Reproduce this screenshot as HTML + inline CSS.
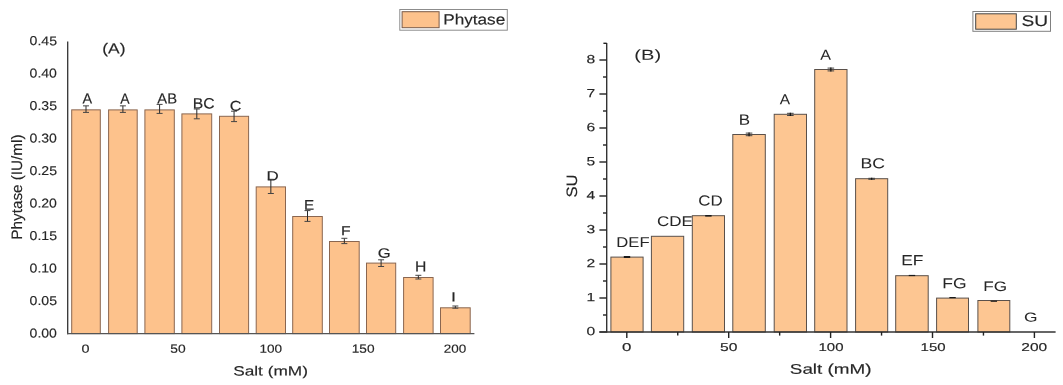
<!DOCTYPE html>
<html><head><meta charset="utf-8"><style>
html,body{margin:0;padding:0;background:#fff;}
body{width:1063px;height:385px;overflow:hidden;}
svg{display:block;font-family:"Liberation Sans",sans-serif;filter:blur(0.4px);}
</style></head><body>
<svg width="1063" height="385" viewBox="0 0 1063 385">
<rect width="1063" height="385" fill="#fff"/>
<rect x="71.70" y="109.85" width="28.60" height="223.75" fill="#fdc28c" stroke="#8a6650" stroke-width="1"/>
<rect x="108.60" y="109.90" width="28.60" height="223.70" fill="#fdc28c" stroke="#8a6650" stroke-width="1"/>
<rect x="144.90" y="109.90" width="29.40" height="223.70" fill="#fdc28c" stroke="#8a6650" stroke-width="1"/>
<rect x="181.90" y="113.90" width="29.80" height="219.70" fill="#fdc28c" stroke="#8a6650" stroke-width="1"/>
<rect x="219.50" y="116.30" width="29.10" height="217.30" fill="#fdc28c" stroke="#8a6650" stroke-width="1"/>
<rect x="256.20" y="186.90" width="29.30" height="146.70" fill="#fdc28c" stroke="#8a6650" stroke-width="1"/>
<rect x="292.70" y="216.50" width="29.60" height="117.10" fill="#fdc28c" stroke="#8a6650" stroke-width="1"/>
<rect x="329.50" y="241.50" width="29.70" height="92.10" fill="#fdc28c" stroke="#8a6650" stroke-width="1"/>
<rect x="366.50" y="263.10" width="29.20" height="70.50" fill="#fdc28c" stroke="#8a6650" stroke-width="1"/>
<rect x="403.60" y="277.50" width="29.50" height="56.10" fill="#fdc28c" stroke="#8a6650" stroke-width="1"/>
<rect x="440.50" y="307.80" width="29.70" height="25.80" fill="#fdc28c" stroke="#8a6650" stroke-width="1"/>
<line x1="86.0" y1="105.85" x2="86.0" y2="112.4" stroke="#2a2a2a" stroke-width="1"/>
<line x1="83.0" y1="105.85" x2="89.0" y2="105.85" stroke="#444" stroke-width="1"/>
<line x1="83.0" y1="112.4" x2="89.0" y2="112.4" stroke="#444" stroke-width="1"/>
<line x1="122.89999999999999" y1="105.85" x2="122.89999999999999" y2="112.4" stroke="#2a2a2a" stroke-width="1"/>
<line x1="119.89999999999999" y1="105.85" x2="125.89999999999999" y2="105.85" stroke="#444" stroke-width="1"/>
<line x1="119.89999999999999" y1="112.4" x2="125.89999999999999" y2="112.4" stroke="#444" stroke-width="1"/>
<line x1="159.60000000000002" y1="104.4" x2="159.60000000000002" y2="113.4" stroke="#2a2a2a" stroke-width="1"/>
<line x1="156.60000000000002" y1="104.4" x2="162.60000000000002" y2="104.4" stroke="#444" stroke-width="1"/>
<line x1="156.60000000000002" y1="113.4" x2="162.60000000000002" y2="113.4" stroke="#444" stroke-width="1"/>
<line x1="196.8" y1="109" x2="196.8" y2="118.8" stroke="#2a2a2a" stroke-width="1"/>
<line x1="193.8" y1="109" x2="199.8" y2="109" stroke="#444" stroke-width="1"/>
<line x1="193.8" y1="118.8" x2="199.8" y2="118.8" stroke="#444" stroke-width="1"/>
<line x1="234.05" y1="111.2" x2="234.05" y2="121.6" stroke="#2a2a2a" stroke-width="1"/>
<line x1="231.05" y1="111.2" x2="237.05" y2="111.2" stroke="#444" stroke-width="1"/>
<line x1="231.05" y1="121.6" x2="237.05" y2="121.6" stroke="#444" stroke-width="1"/>
<line x1="270.85" y1="179.3" x2="270.85" y2="193.5" stroke="#2a2a2a" stroke-width="1"/>
<line x1="267.85" y1="179.3" x2="273.85" y2="179.3" stroke="#444" stroke-width="1"/>
<line x1="267.85" y1="193.5" x2="273.85" y2="193.5" stroke="#444" stroke-width="1"/>
<line x1="307.5" y1="210.6" x2="307.5" y2="221.4" stroke="#2a2a2a" stroke-width="1"/>
<line x1="304.5" y1="210.6" x2="310.5" y2="210.6" stroke="#444" stroke-width="1"/>
<line x1="304.5" y1="221.4" x2="310.5" y2="221.4" stroke="#444" stroke-width="1"/>
<line x1="344.35" y1="238.3" x2="344.35" y2="243.6" stroke="#2a2a2a" stroke-width="1"/>
<line x1="341.35" y1="238.3" x2="347.35" y2="238.3" stroke="#444" stroke-width="1"/>
<line x1="341.35" y1="243.6" x2="347.35" y2="243.6" stroke="#444" stroke-width="1"/>
<line x1="381.1" y1="259.8" x2="381.1" y2="266.5" stroke="#2a2a2a" stroke-width="1"/>
<line x1="378.1" y1="259.8" x2="384.1" y2="259.8" stroke="#444" stroke-width="1"/>
<line x1="378.1" y1="266.5" x2="384.1" y2="266.5" stroke="#444" stroke-width="1"/>
<line x1="418.35" y1="275.3" x2="418.35" y2="279" stroke="#2a2a2a" stroke-width="1"/>
<line x1="415.35" y1="275.3" x2="421.35" y2="275.3" stroke="#444" stroke-width="1"/>
<line x1="415.35" y1="279" x2="421.35" y2="279" stroke="#444" stroke-width="1"/>
<line x1="455.35" y1="306" x2="455.35" y2="308.2" stroke="#2a2a2a" stroke-width="1"/>
<line x1="452.35" y1="306" x2="458.35" y2="306" stroke="#444" stroke-width="1"/>
<line x1="452.35" y1="308.2" x2="458.35" y2="308.2" stroke="#444" stroke-width="1"/>
<line x1="67.7" y1="41.6" x2="67.7" y2="334.2" stroke="#333" stroke-width="1.3"/>
<line x1="67" y1="333.6" x2="474.4" y2="333.6" stroke="#555" stroke-width="1.2"/>
<text transform="translate(29.59,45.12) rotate(0.05) scale(1.1003,1)" font-size="12.82" fill="#262626" stroke="#262626" stroke-width="0.15">0.45</text>
<text transform="translate(29.59,77.60) rotate(0.05) scale(1.0973,1)" font-size="12.82" fill="#262626" stroke="#262626" stroke-width="0.15">0.40</text>
<text transform="translate(29.59,110.08) rotate(0.05) scale(1.1003,1)" font-size="12.82" fill="#262626" stroke="#262626" stroke-width="0.15">0.35</text>
<text transform="translate(29.59,142.56) rotate(0.05) scale(1.0973,1)" font-size="12.82" fill="#262626" stroke="#262626" stroke-width="0.15">0.30</text>
<text transform="translate(29.59,175.04) rotate(0.05) scale(1.1003,1)" font-size="12.82" fill="#262626" stroke="#262626" stroke-width="0.15">0.25</text>
<text transform="translate(29.59,207.52) rotate(0.05) scale(1.0973,1)" font-size="12.82" fill="#262626" stroke="#262626" stroke-width="0.15">0.20</text>
<text transform="translate(29.59,240.00) rotate(0.05) scale(1.1003,1)" font-size="12.82" fill="#262626" stroke="#262626" stroke-width="0.15">0.15</text>
<text transform="translate(29.59,272.48) rotate(0.05) scale(1.0973,1)" font-size="12.82" fill="#262626" stroke="#262626" stroke-width="0.15">0.10</text>
<text transform="translate(29.59,304.96) rotate(0.05) scale(1.1003,1)" font-size="12.82" fill="#262626" stroke="#262626" stroke-width="0.15">0.05</text>
<text transform="translate(29.59,337.44) rotate(0.05) scale(1.0973,1)" font-size="12.82" fill="#262626" stroke="#262626" stroke-width="0.15">0.00</text>
<text transform="translate(81.58,352.73) rotate(0.05) scale(1.2150,1)" font-size="11.83" fill="#262626" stroke="#262626" stroke-width="0.15">0</text>
<text transform="translate(170.30,352.73) rotate(0.05) scale(1.1678,1)" font-size="11.83" fill="#262626" stroke="#262626" stroke-width="0.15">50</text>
<text transform="translate(259.43,352.73) rotate(0.05) scale(1.1469,1)" font-size="11.83" fill="#262626" stroke="#262626" stroke-width="0.15">100</text>
<text transform="translate(351.72,352.73) rotate(0.05) scale(1.1578,1)" font-size="11.83" fill="#262626" stroke="#262626" stroke-width="0.15">150</text>
<text transform="translate(443.68,352.73) rotate(0.05) scale(1.1395,1)" font-size="11.83" fill="#262626" stroke="#262626" stroke-width="0.15">200</text>
<text transform="translate(82.55,103.45) rotate(0.05) scale(0.9862,1)" font-size="14.64" fill="#262626" stroke="#262626" stroke-width="0.15">A</text>
<text transform="translate(120.15,103.85) rotate(0.05) scale(0.9369,1)" font-size="14.93" fill="#262626" stroke="#262626" stroke-width="0.15">A</text>
<text transform="translate(157.35,103.45) rotate(0.05) scale(1.0087,1)" font-size="14.64" fill="#262626" stroke="#262626" stroke-width="0.15">AB</text>
<text transform="translate(192.79,108.50) rotate(0.05) scale(1.0548,1)" font-size="14.93" fill="#262626" stroke="#262626" stroke-width="0.15">BC</text>
<text transform="translate(229.74,110.71) rotate(0.05) scale(1.1403,1)" font-size="14.23" fill="#262626" stroke="#262626" stroke-width="0.15">C</text>
<text transform="translate(266.39,180.45) rotate(0.05) scale(1.2594,1)" font-size="13.48" fill="#262626" stroke="#262626" stroke-width="0.15">D</text>
<text transform="translate(303.93,209.85) rotate(0.05) scale(1.0833,1)" font-size="14.06" fill="#262626" stroke="#262626" stroke-width="0.15">E</text>
<text transform="translate(340.89,235.25) rotate(0.05) scale(1.1915,1)" font-size="13.19" fill="#262626" stroke="#262626" stroke-width="0.15">F</text>
<text transform="translate(377.72,257.71) rotate(0.05) scale(1.2181,1)" font-size="13.66" fill="#262626" stroke="#262626" stroke-width="0.15">G</text>
<text transform="translate(414.89,271.45) rotate(0.05) scale(1.0736,1)" font-size="14.64" fill="#262626" stroke="#262626" stroke-width="0.15">H</text>
<text transform="translate(450.94,301.45) rotate(0.05) scale(1.3277,1)" font-size="13.48" fill="#262626" stroke="#262626" stroke-width="0.15">I</text>
<text transform="translate(102.30,53.57) rotate(0.05) scale(1.1901,1)" font-size="14.65" fill="#262626" stroke="#262626" stroke-width="0.15">(A)</text>
<text transform="translate(21.98,239.67) rotate(-89.95) scale(1.0136,1)" font-size="15.08" fill="#262626" stroke="#262626" stroke-width="0.15">Phytase (IU/ml)</text>
<text transform="translate(233.17,375.52) rotate(0.05) scale(1.2804,1)" font-size="13.48" fill="#262626" stroke="#262626" stroke-width="0.15">Salt (mM)</text>
<rect x="399.8" y="9.5" width="107.5" height="20.7" fill="#fff" stroke="#8c8c8c" stroke-width="1"/>
<rect x="402.10" y="11.70" width="37.00" height="16.00" fill="#fdc28c" stroke="#7a5a48" stroke-width="1"/>
<text transform="translate(443.17,24.55) rotate(0.05) scale(1.1645,1)" font-size="14.76" fill="#262626" stroke="#262626" stroke-width="0.15">Phytase</text>
<text transform="translate(616.32,246.95) rotate(0.05) scale(1.1604,1)" font-size="14.35" fill="#262626" stroke="#262626" stroke-width="0.02">DEF</text>
<text transform="translate(657.00,226.01) rotate(0.05) scale(1.2056,1)" font-size="14.08" fill="#262626" stroke="#262626" stroke-width="0.02">CDE</text>
<text transform="translate(698.31,205.40) rotate(0.05) scale(1.1522,1)" font-size="14.65" fill="#262626" stroke="#262626" stroke-width="0.02">CD</text>
<text transform="translate(738.69,124.65) rotate(0.05) scale(1.1395,1)" font-size="14.93" fill="#262626" stroke="#262626" stroke-width="0.02">B</text>
<text transform="translate(779.85,104.35) rotate(0.05) scale(1.0687,1)" font-size="14.49" fill="#262626" stroke="#262626" stroke-width="0.02">A</text>
<text transform="translate(820.25,59.65) rotate(0.05) scale(1.1214,1)" font-size="14.35" fill="#262626" stroke="#262626" stroke-width="0.02">A</text>
<text transform="translate(860.54,168.30) rotate(0.05) scale(1.2158,1)" font-size="14.51" fill="#262626" stroke="#262626" stroke-width="0.02">BC</text>
<text transform="translate(901.16,265.35) rotate(0.05) scale(1.1658,1)" font-size="14.93" fill="#262626" stroke="#262626" stroke-width="0.02">EF</text>
<text transform="translate(942.35,288.30) rotate(0.05) scale(1.2056,1)" font-size="14.51" fill="#262626" stroke="#262626" stroke-width="0.02">FG</text>
<text transform="translate(983.28,290.91) rotate(0.05) scale(1.2565,1)" font-size="13.66" fill="#262626" stroke="#262626" stroke-width="0.02">FG</text>
<text transform="translate(1024.08,321.52) rotate(0.05) scale(1.3579,1)" font-size="12.82" fill="#262626" stroke="#262626" stroke-width="0.02">G</text>
<rect x="610.90" y="257.10" width="32.20" height="74.90" fill="#fdc692" stroke="#5a504a" stroke-width="1"/>
<rect x="651.40" y="236.30" width="32.30" height="95.70" fill="#fdc692" stroke="#5a504a" stroke-width="1"/>
<rect x="692.30" y="215.70" width="32.20" height="116.30" fill="#fdc692" stroke="#5a504a" stroke-width="1"/>
<rect x="732.80" y="134.50" width="32.50" height="197.50" fill="#fdc692" stroke="#5a504a" stroke-width="1"/>
<rect x="774.20" y="114.30" width="32.30" height="217.70" fill="#fdc692" stroke="#5a504a" stroke-width="1"/>
<rect x="814.70" y="69.50" width="32.30" height="262.50" fill="#fdc692" stroke="#5a504a" stroke-width="1"/>
<rect x="855.60" y="178.70" width="32.10" height="153.30" fill="#fdc692" stroke="#5a504a" stroke-width="1"/>
<rect x="895.70" y="275.70" width="32.50" height="56.30" fill="#fdc692" stroke="#5a504a" stroke-width="1"/>
<rect x="936.60" y="298.10" width="31.90" height="33.90" fill="#fdc692" stroke="#5a504a" stroke-width="1"/>
<rect x="977.90" y="300.50" width="31.90" height="31.50" fill="#fdc692" stroke="#5a504a" stroke-width="1"/>
<rect x="623.80" y="256.00" width="6.4" height="2.00" fill="#1a1a1a"/>
<rect x="705.20" y="215.00" width="6.4" height="1.60" fill="#1a1a1a"/>
<line x1="745.75" y1="133.1" x2="752.3499999999999" y2="133.1" stroke="#444" stroke-width="1"/>
<line x1="745.75" y1="135.7" x2="752.3499999999999" y2="135.7" stroke="#444" stroke-width="1"/>
<line x1="749.05" y1="132.6" x2="749.05" y2="136.2" stroke="#111" stroke-width="1.2"/>
<line x1="787.0500000000001" y1="113.3" x2="793.65" y2="113.3" stroke="#444" stroke-width="1"/>
<line x1="787.0500000000001" y1="115.5" x2="793.65" y2="115.5" stroke="#444" stroke-width="1"/>
<line x1="790.35" y1="112.8" x2="790.35" y2="116" stroke="#111" stroke-width="1.2"/>
<line x1="827.5500000000001" y1="68.1" x2="834.15" y2="68.1" stroke="#444" stroke-width="1"/>
<line x1="827.5500000000001" y1="70.9" x2="834.15" y2="70.9" stroke="#444" stroke-width="1"/>
<line x1="830.85" y1="67.6" x2="830.85" y2="71.4" stroke="#111" stroke-width="1.2"/>
<line x1="868.3500000000001" y1="178.3" x2="874.95" y2="178.3" stroke="#444" stroke-width="1"/>
<line x1="868.3500000000001" y1="179.3" x2="874.95" y2="179.3" stroke="#444" stroke-width="1"/>
<line x1="871.6500000000001" y1="177.8" x2="871.6500000000001" y2="179.8" stroke="#111" stroke-width="1.2"/>
<rect x="908.75" y="274.90" width="6.4" height="1.20" fill="#1a1a1a"/>
<rect x="949.35" y="297.00" width="6.4" height="1.20" fill="#1a1a1a"/>
<rect x="990.65" y="300.60" width="6.4" height="1.20" fill="#1a1a1a"/>
<line x1="606.7" y1="43" x2="606.7" y2="332.6" stroke="#333" stroke-width="1.4"/>
<line x1="603.4" y1="43.3" x2="606.7" y2="43.3" stroke="#222" stroke-width="1.4"/>
<line x1="599.4" y1="332" x2="606.7" y2="332" stroke="#222" stroke-width="1.4"/>
<line x1="603" y1="315" x2="606.7" y2="315" stroke="#222" stroke-width="1.4"/>
<text transform="translate(595.17,335.33) rotate(0.05) scale(1.3051,1)" text-anchor="end" font-size="11.97" fill="#262626" stroke="#262626" stroke-width="0.15">0</text>
<line x1="599.4" y1="298" x2="606.7" y2="298" stroke="#222" stroke-width="1.4"/>
<line x1="603" y1="281" x2="606.7" y2="281" stroke="#222" stroke-width="1.4"/>
<text transform="translate(595.17,301.33) rotate(0.05) scale(1.3051,1)" text-anchor="end" font-size="11.97" fill="#262626" stroke="#262626" stroke-width="0.15">1</text>
<line x1="599.4" y1="264" x2="606.7" y2="264" stroke="#222" stroke-width="1.4"/>
<line x1="603" y1="247" x2="606.7" y2="247" stroke="#222" stroke-width="1.4"/>
<text transform="translate(595.17,267.33) rotate(0.05) scale(1.3051,1)" text-anchor="end" font-size="11.97" fill="#262626" stroke="#262626" stroke-width="0.15">2</text>
<line x1="599.4" y1="230" x2="606.7" y2="230" stroke="#222" stroke-width="1.4"/>
<line x1="603" y1="213" x2="606.7" y2="213" stroke="#222" stroke-width="1.4"/>
<text transform="translate(595.17,233.33) rotate(0.05) scale(1.3051,1)" text-anchor="end" font-size="11.97" fill="#262626" stroke="#262626" stroke-width="0.15">3</text>
<line x1="599.4" y1="196" x2="606.7" y2="196" stroke="#222" stroke-width="1.4"/>
<line x1="603" y1="179" x2="606.7" y2="179" stroke="#222" stroke-width="1.4"/>
<text transform="translate(595.17,199.33) rotate(0.05) scale(1.3051,1)" text-anchor="end" font-size="11.97" fill="#262626" stroke="#262626" stroke-width="0.15">4</text>
<line x1="599.4" y1="162" x2="606.7" y2="162" stroke="#222" stroke-width="1.4"/>
<line x1="603" y1="145" x2="606.7" y2="145" stroke="#222" stroke-width="1.4"/>
<text transform="translate(595.17,165.33) rotate(0.05) scale(1.3051,1)" text-anchor="end" font-size="11.97" fill="#262626" stroke="#262626" stroke-width="0.15">5</text>
<line x1="599.4" y1="128" x2="606.7" y2="128" stroke="#222" stroke-width="1.4"/>
<line x1="603" y1="111" x2="606.7" y2="111" stroke="#222" stroke-width="1.4"/>
<text transform="translate(595.17,131.33) rotate(0.05) scale(1.3051,1)" text-anchor="end" font-size="11.97" fill="#262626" stroke="#262626" stroke-width="0.15">6</text>
<line x1="599.4" y1="94" x2="606.7" y2="94" stroke="#222" stroke-width="1.4"/>
<line x1="603" y1="77" x2="606.7" y2="77" stroke="#222" stroke-width="1.4"/>
<text transform="translate(595.17,97.33) rotate(0.05) scale(1.3051,1)" text-anchor="end" font-size="11.97" fill="#262626" stroke="#262626" stroke-width="0.15">7</text>
<line x1="599.4" y1="60" x2="606.7" y2="60" stroke="#222" stroke-width="1.4"/>
<text transform="translate(595.17,63.33) rotate(0.05) scale(1.3051,1)" text-anchor="end" font-size="11.97" fill="#262626" stroke="#262626" stroke-width="0.15">8</text>
<line x1="599.4" y1="332" x2="1055.6" y2="332" stroke="#333" stroke-width="1.3"/>
<line x1="626.8" y1="332" x2="626.8" y2="338" stroke="#222" stroke-width="1.4"/>
<line x1="728.6999999999999" y1="332" x2="728.6999999999999" y2="338" stroke="#222" stroke-width="1.4"/>
<line x1="830.5999999999999" y1="332" x2="830.5999999999999" y2="338" stroke="#222" stroke-width="1.4"/>
<line x1="932.5" y1="332" x2="932.5" y2="338" stroke="#222" stroke-width="1.4"/>
<line x1="1034.3999999999999" y1="332" x2="1034.3999999999999" y2="338" stroke="#222" stroke-width="1.4"/>
<text transform="translate(622.07,351.04) rotate(0.05) scale(1.4792,1)" font-size="11.41" fill="#262626" stroke="#262626" stroke-width="0.15">0</text>
<text transform="translate(720.07,351.04) rotate(0.05) scale(1.3720,1)" font-size="11.41" fill="#262626" stroke="#262626" stroke-width="0.15">50</text>
<text transform="translate(818.53,351.04) rotate(0.05) scale(1.3134,1)" font-size="11.41" fill="#262626" stroke="#262626" stroke-width="0.15">100</text>
<text transform="translate(920.58,351.04) rotate(0.05) scale(1.3134,1)" font-size="11.41" fill="#262626" stroke="#262626" stroke-width="0.15">150</text>
<text transform="translate(1021.37,351.04) rotate(0.05) scale(1.3592,1)" font-size="11.41" fill="#262626" stroke="#262626" stroke-width="0.15">200</text>
<line x1="677.75" y1="332" x2="677.75" y2="335.6" stroke="#222" stroke-width="1.4"/>
<line x1="779.65" y1="332" x2="779.65" y2="335.6" stroke="#222" stroke-width="1.4"/>
<line x1="881.55" y1="332" x2="881.55" y2="335.6" stroke="#222" stroke-width="1.4"/>
<line x1="983.4499999999999" y1="332" x2="983.4499999999999" y2="335.6" stroke="#222" stroke-width="1.4"/>
<text transform="translate(634.35,59.72) rotate(0.05) scale(1.3909,1)" font-size="14.44" fill="#262626" stroke="#262626" stroke-width="0.02">(B)</text>
<text transform="translate(577.10,197.60) rotate(-89.95) scale(1.1068,1)" font-size="15.07" fill="#262626" stroke="#262626" stroke-width="0.15">SU</text>
<text transform="translate(789.80,373.71) rotate(0.05) scale(1.3464,1)" font-size="14.01" fill="#262626" stroke="#262626" stroke-width="0.15">Salt (mM)</text>
<rect x="972.9" y="11.5" width="77.6" height="19.8" fill="#fff" stroke="#808080" stroke-width="1"/>
<rect x="975.70" y="13.80" width="40.60" height="15.40" fill="#fdc692" stroke="#444" stroke-width="1"/>
<text transform="translate(1021.39,25.90) rotate(0.05) scale(1.2576,1)" font-size="15.21" fill="#262626" stroke="#262626" stroke-width="0.15">SU</text>
</svg>
</body></html>
